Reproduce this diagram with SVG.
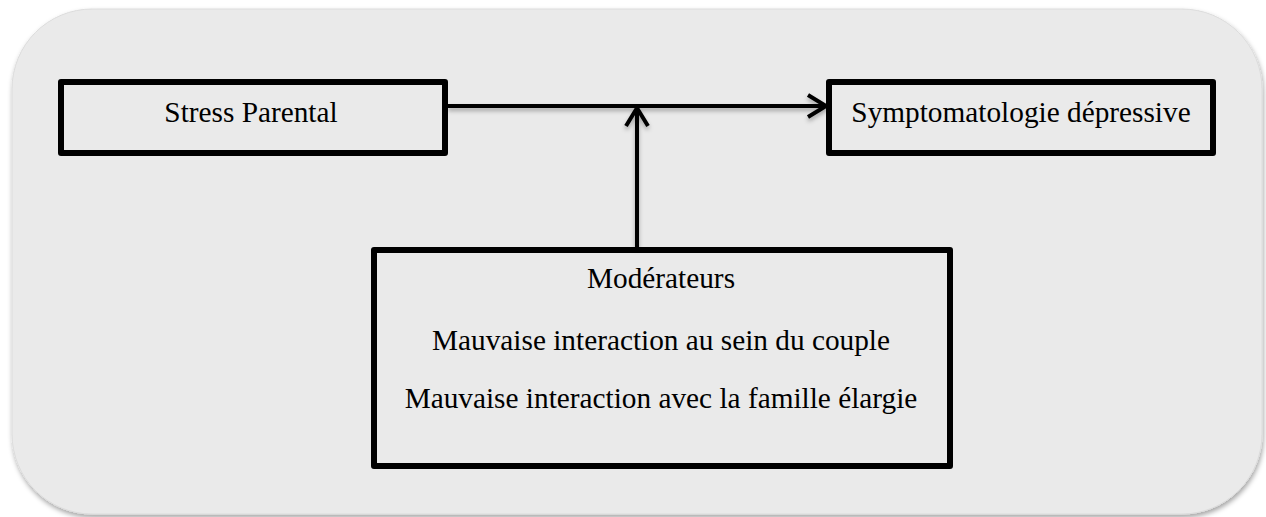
<svg xmlns="http://www.w3.org/2000/svg" width="1266" height="517" viewBox="0 0 1266 517">
<defs>
<filter id="bgshadow" x="-5%" y="-5%" width="110%" height="115%">
<feDropShadow dx="1" dy="3" stdDeviation="2.5" flood-color="#000" flood-opacity="0.35"/>
</filter>
<filter id="lineshadow" x="-10%" y="-50%" width="120%" height="200%">
<feDropShadow dx="0" dy="3" stdDeviation="2" flood-color="#000" flood-opacity="0.3"/>
</filter>
<marker id="arrow" viewBox="0 0 24 26" markerWidth="24" markerHeight="26" refX="21" refY="13" orient="auto" markerUnits="userSpaceOnUse">
<path d="M3,2 L21,13 L3,24" fill="none" stroke="#000" stroke-width="4"/>
</marker>
<style>
.box{fill:none;stroke:#000;stroke-width:6;stroke-linejoin:round;}
.lbl{font-family:"Liberation Serif","Times New Roman",serif;font-size:29.3px;fill:#000;text-anchor:middle;}
.conn{fill:none;stroke:#000;stroke-width:4;}
</style>
</defs>
<rect x="0" y="0" width="1266" height="517" fill="#ffffff"/>
<rect x="12" y="9" width="1250" height="505" rx="80" ry="80" fill="#eaeaea" stroke="#dcdcdc" stroke-width="1" filter="url(#bgshadow)"/>
<g id="connectors" filter="url(#lineshadow)">
<line class="conn" x1="448" y1="106" x2="826" y2="106" marker-end="url(#arrow)"/>
<line class="conn" x1="637" y1="247" x2="637" y2="108" marker-end="url(#arrow)"/>
</g>
<g id="stress">
<rect class="box" x="61" y="82" width="384" height="71"/>
<text class="lbl" x="251" y="122">Stress Parental</text>
</g>
<g id="symptomatologie">
<rect class="box" x="829" y="82" width="384" height="71"/>
<text class="lbl" x="1021" y="122">Symptomatologie dépressive</text>
</g>
<g id="moderateurs">
<rect class="box" x="374" y="250" width="576" height="216"/>
<text class="lbl" x="661" y="288">Modérateurs</text>
<text class="lbl" x="661" y="350">Mauvaise interaction au sein du couple</text>
<text class="lbl" x="661" y="408">Mauvaise interaction avec la famille élargie</text>
</g>
</svg>
